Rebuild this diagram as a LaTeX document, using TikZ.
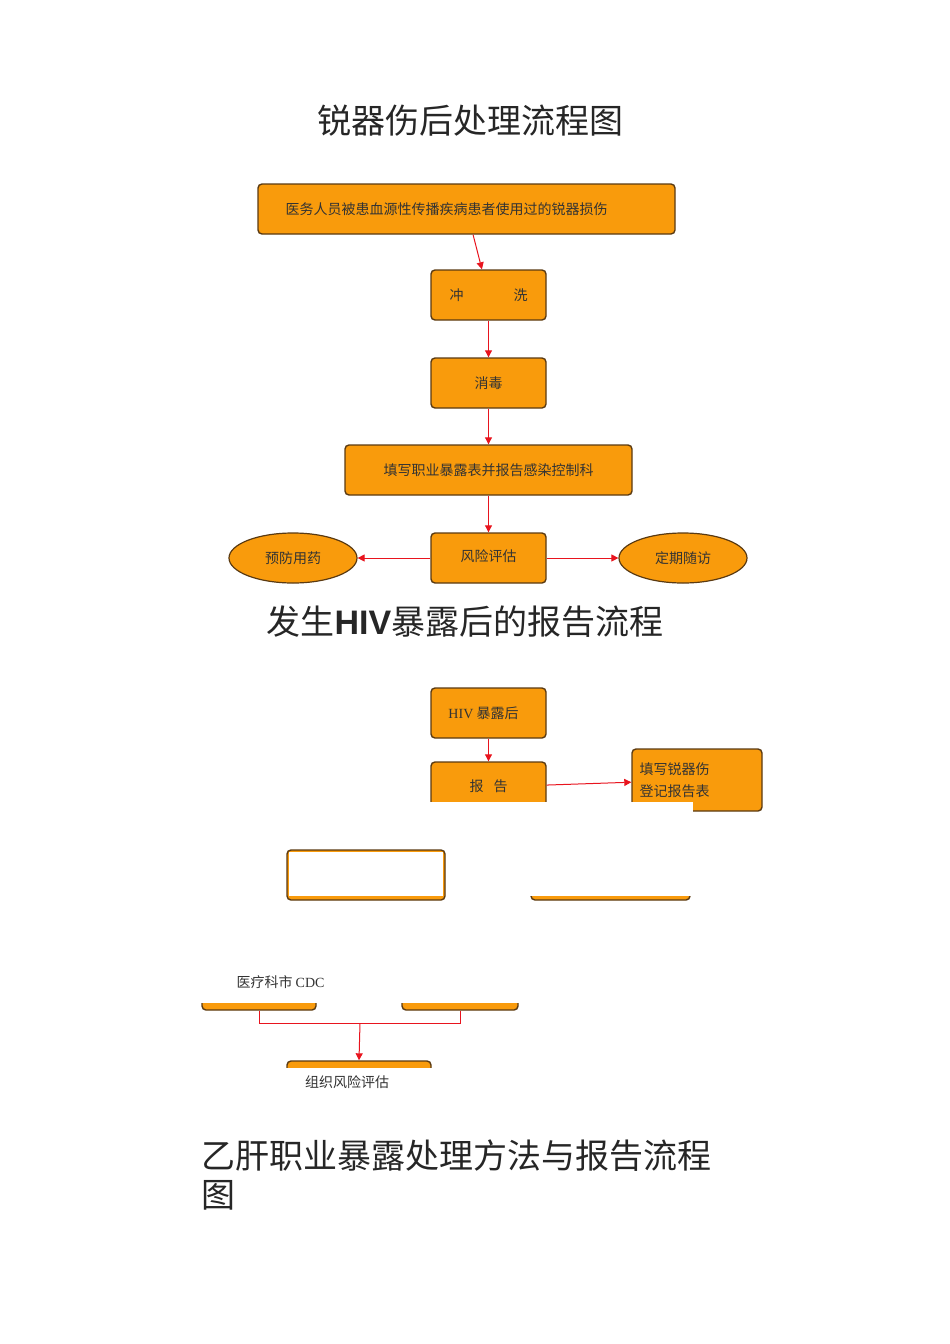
\documentclass[tikz,border=0pt]{standalone}
\usepackage{fontspec}
\setmainfont{Liberation Serif}
\newfontfamily\cjk{Noto Sans CJK SC}
\usetikzlibrary{shapes.geometric,arrows.meta}
\definecolor{org}{HTML}{F99B0C}
\definecolor{brd}{HTML}{5A3A12}
\definecolor{arr}{HTML}{E8141E}
\begin{document}
\begin{tikzpicture}[x=1pt,y=-1pt,
 box/.style={draw=brd,line width=1.4pt,fill=org,rounded corners=4pt,inner sep=0pt,font=\fontsize{14}{16}\selectfont\cjk,text=black!80},
 ell/.style={draw=brd,line width=1.2pt,fill=org,ellipse,inner sep=0pt,font=\fontsize{14}{16}\selectfont\cjk,text=black!80},
 ar/.style={draw=arr,line width=1pt,-{Triangle[length=7pt,width=7pt]}},
 ln/.style={draw=arr,line width=1pt},
 ttl/.style={font=\fontsize{34}{40}\selectfont\cjk,text=black!85},
 wipe/.style={fill=white,draw=none}]
\useasboundingbox (0,0) rectangle (950,1344);
\node[ttl] (t1) at (470,121) {锐器伤后处理流程图};
\node[box,minimum width=417pt,minimum height=50pt] (a1) at (466.5,209) {\hspace*{-40pt}医务人员被患血源性传播疾病患者使用过的锐器损伤};
\node[box,minimum width=115pt,minimum height=50pt] (a2) at (488.5,295) {冲\hspace{50pt}洗};
\node[box,minimum width=115pt,minimum height=50pt] (a3) at (488.5,383) {消毒};
\node[box,minimum width=287pt,minimum height=50pt] (a4) at (488.5,470) {填写职业暴露表并报告感染控制科};
\node[box,minimum width=115pt,minimum height=50pt] (a5) at (488.5,558) {\raisebox{5pt}{风险评估}};
\node[ell,minimum width=128pt,minimum height=50pt] (e1) at (293,558) {预防用药};
\node[ell,minimum width=128pt,minimum height=50pt] (e2) at (683,558) {定期随访};
\draw[ar] (a1) -- (a2);
\draw[ar] (a2) -- (a3);
\draw[ar] (a3) -- (a4);
\draw[ar] (a4) -- (a5);
\draw[ar] (a5) -- (e1);
\draw[ar] (a5) -- (e2);
\node[ttl] (t2) at (465,622) {发生\textbf{\fontspec{Liberation Sans}HIV}暴露后的报告流程};
\node[box,minimum width=115pt,minimum height=50pt] (b1) at (488.5,713) {\hspace*{-10pt}{\fontspec{Liberation Serif}HIV} 暴露后};
\node[box,minimum width=115pt,minimum height=50pt] (b2) at (488.5,787) {\raisebox{3pt}{报\hspace{10pt}告}};
\node[box,minimum width=130pt,minimum height=62pt,align=left,text width=115pt] (b3) at (697,780) {填写锐器伤\\[6pt]登记报告表};
\draw[ar] (b1) -- (b2);
\draw[ar] (b2) -- (b3);
\node[box,minimum width=158pt,minimum height=50pt] (c1) at (366,875) {};
\node[box,minimum width=159pt,minimum height=50pt] (c2) at (610.5,875) {};
\fill[wipe] (420,801.5) rectangle (693,848);
\fill[wipe] (289,852) rectangle (443,896);
\fill[wipe] (520,840) rectangle (700,896);
\node[box,minimum width=114pt,minimum height=50pt] (d1) at (259,985) {};
\node[box,minimum width=116pt,minimum height=50pt] (d2) at (460,985) {};
\fill[wipe] (195,950) rectangle (525,1003);
\node[font=\fontsize{14}{16}\selectfont\cjk,text=black!80,anchor=west] (dl) at (233,982) {医疗科市 {\fontspec{Liberation Serif}CDC}};
\coordinate (j) at (360,1023);
\node[box,minimum width=144pt,minimum height=40pt] (g1) at (359,1081) {};
\draw[ln] (d1.south) |- (j);
\draw[ln] (d2.south) |- (j);
\draw[ar] (j) -- (g1.north);
\fill[wipe] (280,1068) rectangle (440,1105);
\node[font=\fontsize{14}{16}\selectfont\cjk,text=black!80] (gl) at (347,1082) {组织风险评估};
\node[ttl,anchor=west] (t3) at (198,1156) {乙肝职业暴露处理方法与报告流程};
\node[ttl,anchor=west] (t4) at (198,1195) {图};
\end{tikzpicture}
\end{document}
